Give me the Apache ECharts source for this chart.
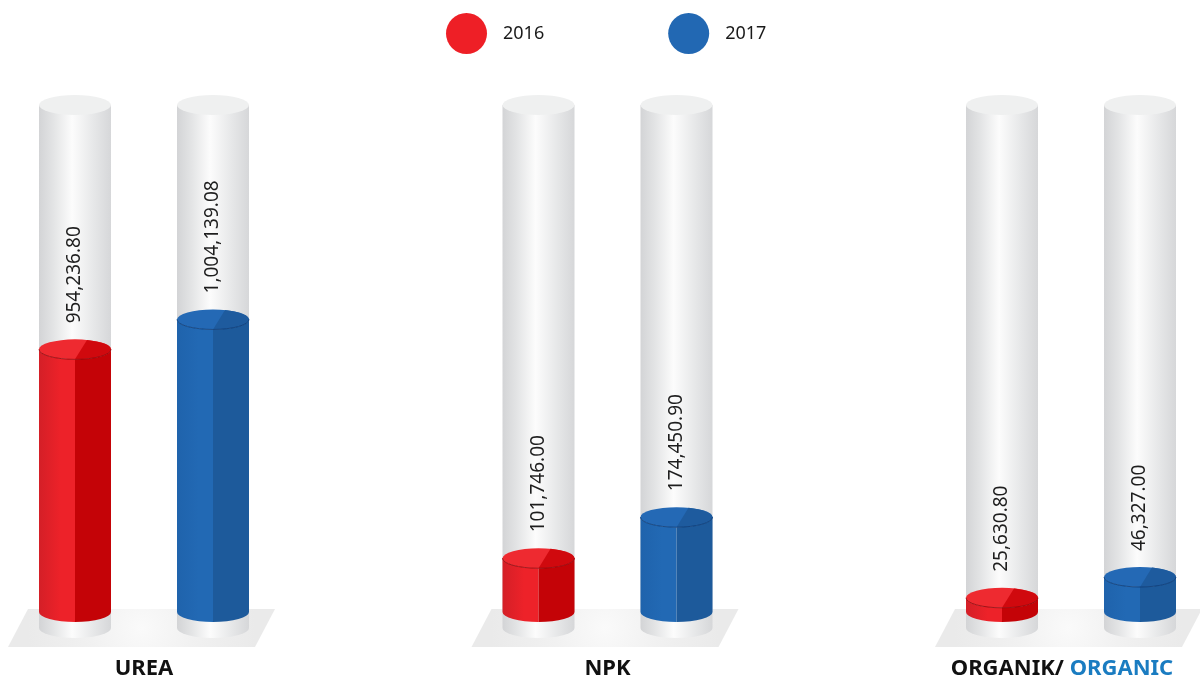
<!DOCTYPE html>
<html>
<head>
<meta charset="utf-8">
<script src="https://cdn.jsdelivr.net/npm/echarts@6/dist/echarts.min.js"></script>
<style>
  html, body { margin: 0; padding: 0; background: #ffffff; }
  #chart { width: 1200px; height: 682px; }
</style>
</head>
<body>
<div id="chart"></div>
<script>
// ---- data ----
const categories = ['UREA', 'NPK', 'ORGANIK/ ORGANIC'];
const seriesNames = ['2016', '2017'];
const values2016 = [954236.80, 101746.00, 25630.80];
const values2017 = [1004139.08, 174450.90, 46327.00];
// fill level of each cylinder as drawn in the infographic (percent of tube height)
const level2016 = [51.8, 10.6, 2.8];
const level2017 = [57.7, 18.7, 6.9];

const fmt = v => v.toLocaleString('en-US', { minimumFractionDigits: 2, maximumFractionDigits: 2 });

const R = 36, RY = 10;

function ellipsePath(cx, cy, rx, ry) {
  return `M${cx - rx},${cy} A${rx},${ry} 0 1 0 ${cx + rx},${cy} A${rx},${ry} 0 1 0 ${cx - rx},${cy} Z`;
}

function makeRender(offset, pal, values) {
  return function (params, api) {
    const i = api.value(0);
    const lvl = api.value(1);
    const base = api.coord([i, 0]);
    const top = api.coord([i, lvl]);
    const full = api.coord([i, 100]);
    const cx = base[0] + offset;
    const y0 = base[1], yt = top[1], yf = full[1], yb = y0 + 16;
    const children = [];
    // background tube
    children.push({
      type: 'path',
      shape: { pathData: `M${cx - R},${yf} L${cx - R},${yb} A${R},${RY} 0 0 0 ${cx},${yb + RY} A${R},${RY} 0 0 0 ${cx + R},${yb} L${cx + R},${yf} Z` },
      style: {
        fill: new echarts.graphic.LinearGradient(0, 0, 1, 0, [
          { offset: 0, color: '#d3d4d6' },
          { offset: 0.2, color: '#e3e4e5' },
          { offset: 0.46, color: '#fcfcfc' },
          { offset: 0.75, color: '#e7e8e9' },
          { offset: 1, color: '#d6d7d9' }
        ])
      }
    });
    children.push({
      type: 'path',
      shape: { pathData: ellipsePath(cx, yf, R, RY) },
      style: { fill: '#eff0f0' }
    });
    // colored body: left half
    children.push({
      type: 'path',
      shape: { pathData: `M${cx - R},${yt} L${cx - R},${y0} A${R},${RY} 0 0 0 ${cx},${y0 + RY} L${cx},${yt + RY} A${R},${RY} 0 0 1 ${cx - R},${yt} Z` },
      style: {
        fill: new echarts.graphic.LinearGradient(0, 0, 1, 0, [
          { offset: 0, color: pal.leftA },
          { offset: 0.6, color: pal.leftB },
          { offset: 1, color: pal.leftB }
        ])
      }
    });
    // right half
    children.push({
      type: 'path',
      shape: { pathData: `M${cx},${yt + RY} L${cx},${y0 + RY} A${R},${RY} 0 0 0 ${cx + R},${y0} L${cx + R},${yt} A${R},${RY} 0 0 1 ${cx},${yt + RY} Z` },
      style: { fill: pal.right }
    });
    // top ellipse
    children.push({
      type: 'path',
      shape: { pathData: ellipsePath(cx, yt, R, RY) },
      style: { fill: pal.topLeft }
    });
    const px = cx + 12, py = yt - RY * Math.sqrt(1 - (12 / R) * (12 / R));
    children.push({
      type: 'path',
      shape: { pathData: `M${cx},${yt + RY} L${px},${py} A${R},${RY} 0 0 1 ${cx + R},${yt} A${R},${RY} 0 0 1 ${cx},${yt + RY} Z` },
      style: { fill: pal.topRight }
    });
    // front rim line
    children.push({
      type: 'path',
      shape: { pathData: `M${cx - R},${yt} A${R},${RY} 0 0 0 ${cx},${yt + RY} A${R},${RY} 0 0 0 ${cx + R},${yt}` },
      style: { fill: 'none', stroke: pal.rim, lineWidth: 1, opacity: 0.8 }
    });
    // value label
    children.push({
      type: 'text',
      x: cx,
      y: yt - 26,
      rotation: Math.PI / 2,
      style: {
        text: fmt(values[params.dataIndex]),
        fill: '#1e1e1e',
        font: '19px "Noto Sans"',
        align: 'left',
        verticalAlign: 'middle'
      }
    });
    return { type: 'group', children };
  };
}

function renderPlatform(params, api) {
  const base = api.coord([api.value(0), 0]);
  const gx = base[0], y0 = base[1];
  return {
    type: 'polygon',
    shape: { points: [[gx - 116, y0 - 3], [gx + 131, y0 - 3], [gx + 111, y0 + 35], [gx - 136, y0 + 35]] },
    style: {
      fill: new echarts.graphic.RadialGradient(0.5, 0.5, 3, [
        { offset: 0, color: '#fafafa' },
        { offset: 0.45, color: '#f1f1f1' },
        { offset: 1, color: '#eaeaea' }
      ])
    }
  };
}

const redPal = { leftA: '#d41f27', leftB: '#ed2229', right: '#c40307', topLeft: '#ee2a30', topRight: '#d0090e', rim: '#8c0a0e' };
const bluePal = { leftA: '#1f63ac', leftB: '#2269b4', right: '#1d5a9b', topLeft: '#2469b5', topRight: '#1e5b9e', rim: '#0e3b74' };

const chart = echarts.init(document.getElementById('chart'), null, { renderer: 'canvas' });
chart.setOption({
  animation: false,
  backgroundColor: '#ffffff',
  legend: {
    data: seriesNames,
    left: 446,
    top: 13,
    padding: 0,
    icon: 'circle',
    itemWidth: 41,
    itemHeight: 41,
    itemGap: 124,
    textStyle: { fontSize: 18, color: '#1a1a1a', fontFamily: 'Noto Sans', padding: [0, 0, 0, 11] },
    selectedMode: false
  },
  grid: { left: -87.75, width: 1390.5, top: 105, bottom: 70, containLabel: false, outerBoundsMode: 'none' },
  xAxis: {
    type: 'category',
    data: categories,
    axisLine: { show: false },
    axisTick: { show: false },
    splitLine: { show: false },
    axisLabel: {
      margin: 46,
      formatter: function (v) {
        if (v.indexOf('/') >= 0) {
          const parts = v.split('/');
          return '{a|' + parts[0] + '/}{b|' + parts[1] + '}';
        }
        return '{a|' + v + '}';
      },
      rich: {
        a: { fontSize: 22, fontWeight: 'bold', color: '#111111', fontFamily: 'Noto Sans' },
        b: { fontSize: 22, fontWeight: 'bold', color: '#1a7cc1', fontFamily: 'Noto Sans', padding: [0, 18, 0, 0] }
      }
    }
  },
  yAxis: { type: 'value', min: 0, max: 100, show: false },
  series: [
    {
      type: 'custom',
      name: 'platform',
      z: 1,
      renderItem: renderPlatform,
      data: categories.map((c, i) => [i]),
      encode: { x: 0 },
      silent: true
    },
    {
      type: 'custom',
      name: '2016',
      z: 2,
      itemStyle: { color: '#ee1f26' },
      renderItem: makeRender(-69, redPal, values2016),
      data: level2016.map((v, i) => [i, v]),
      encode: { x: 0, y: 1 }
    },
    {
      type: 'custom',
      name: '2017',
      z: 2,
      itemStyle: { color: '#2268b3' },
      renderItem: makeRender(69, bluePal, values2017),
      data: level2017.map((v, i) => [i, v]),
      encode: { x: 0, y: 1 }
    }
  ]
});
</script>
</body>
</html>
